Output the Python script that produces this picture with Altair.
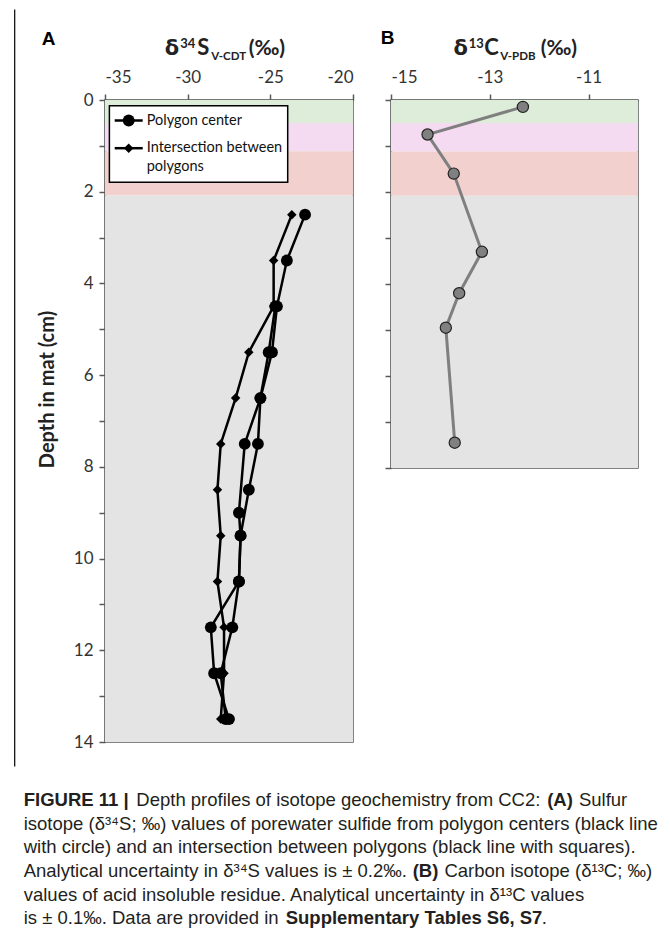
import altair as alt
import pandas as pd

# ---------------- data ----------------
# Panel A: delta34S (permil) vs depth (cm)
int_depth = [2.5, 3.5, 4.5, 5.5, 6.5, 7.5, 8.5, 9.5, 10.5, 11.5, 12.5, 13.5]
int_val = [-23.7, -24.8, -24.8, -26.3, -27.1, -28.0, -28.2, -28.0, -28.2, -27.8, -27.8, -28.0]
c1_depth = [2.5, 3.5, 4.5, 5.5, 6.5, 7.5, 8.5, 9.5, 10.5, 11.5, 12.5, 13.5]
c1_val = [-22.9, -24.0, -24.6, -24.9, -25.6, -25.75, -26.3, -26.8, -26.9, -28.6, -28.4, -27.5]
c2_depth = [4.5, 5.5, 6.5, 7.5, 9.0, 9.5, 10.5, 11.5, 12.5, 13.5]
c2_val = [-24.7, -25.1, -25.6, -26.55, -26.9, -26.8, -26.9, -27.3, -28.0, -27.7]
# Panel B: delta13C (permil) vs depth (cm)
c13_depth = [0.15, 0.75, 1.6, 3.3, 4.2, 4.95, 7.45]
c13_val = [-12.33, -14.26, -13.73, -13.16, -13.62, -13.89, -13.71]
# shaded mat layers (depth limits, cm)
band_names = ["green", "pink", "red", "grey"]
band_top = [0, 0.5, 1.12, 2.08]
band_bottom_A = [0.5, 1.12, 2.08, 14]
band_bottom_B = [0.5, 1.12, 2.08, 8]
band_colors = ["#ddedd9", "#f5dbf2", "#f1d0cd", "#e4e4e4"]
xA_ticks = [-35, -30, -25, -20]
xB_ticks = [-15, -13, -11]

# ---------------- layout ----------------
W_A, H_A = 248, 642
W_B, H_B = 247, 368
OX_A, OY_A = 103.3, 98.5
OX_B, OY_B = OX_A + W_A + 38, 98.5
AX = "#595959"
MINUS = "datum.value < 0 ? '-' + abs(datum.value) : '' + datum.value"

one = pd.DataFrame({"k": [0]})


def txt(t, px, py, size, weight="normal", font="Lato", color="#222222",
        align="left", baseline="alphabetic", angle=None, ox=OX_A, oy=OY_A):
    kw = dict(align=align, baseline=baseline, fontSize=size, fontWeight=weight,
              font=font, color=color)
    if angle is not None:
        kw["angle"] = angle
    return alt.Chart(one).mark_text(**kw).encode(
        x=alt.value(px - ox), y=alt.value(py - oy), text=alt.value(t))


dfA = pd.concat([
    pd.DataFrame({"depth": int_depth, "val": int_val, "series": "int"}),
    pd.DataFrame({"depth": c1_depth, "val": c1_val, "series": "c1"}),
    pd.DataFrame({"depth": c2_depth, "val": c2_val, "series": "c2"}),
])
dfB = pd.DataFrame({"depth": c13_depth, "val": c13_val})
bandA = pd.DataFrame({"band": band_names, "top": band_top, "bottom": band_bottom_A})
bandB = pd.DataFrame({"band": band_names, "top": band_top, "bottom": band_bottom_B})

band_color = alt.Color("band:N", scale=alt.Scale(domain=band_names, range=band_colors), legend=None)

yscaleA = alt.Scale(domain=[0, 14], nice=False, reverse=True)
yaxisA = alt.Axis(values=list(range(0, 15)), title=None, labelPadding=6,
                  labelExpr="datum.value % 2 == 0 ? datum.label : ''")
xA = alt.X("val:Q", scale=alt.Scale(domain=[-35, -20], nice=False),
           axis=alt.Axis(orient="top", values=xA_ticks, title=None, labelPadding=8,
                         labelExpr=MINUS))
yA = alt.Y("depth:Q", scale=yscaleA, axis=yaxisA)

bandsA = alt.Chart(bandA).mark_rect().encode(
    y=alt.Y("top:Q", scale=yscaleA, axis=yaxisA),
    y2="bottom:Q", x=alt.value(0), x2=alt.value(W_A), color=band_color)

linesA = alt.Chart(dfA).mark_line(color="black", strokeWidth=2.5).encode(
    x=xA, y=yA, detail="series:N", order="depth:Q")
circA = alt.Chart(dfA).transform_filter("datum.series != 'int'").mark_point(
    shape="circle", filled=True, size=140, color="black", opacity=1).encode(x=xA, y=yA)
diaA = alt.Chart(dfA).transform_filter("datum.series == 'int'").mark_point(
    shape="diamond", filled=True, size=90, color="black", opacity=1).encode(x=xA, y=yA)

# legend box (manual, to reproduce line-through-symbol keys)
leg_box = alt.Chart(one).mark_rect(fill="white", stroke="black", strokeWidth=1.5).encode(
    x=alt.value(107.7 - OX_A), x2=alt.value(286 - OX_A),
    y=alt.value(104.3 - OY_A), y2=alt.value(180.7 - OY_A))
leg_l1 = alt.Chart(one).mark_rule(color="black", strokeWidth=2.5).encode(
    x=alt.value(113 - OX_A), x2=alt.value(141 - OX_A), y=alt.value(119 - OY_A))
leg_l2 = alt.Chart(one).mark_rule(color="black", strokeWidth=2.5).encode(
    x=alt.value(113 - OX_A), x2=alt.value(141 - OX_A), y=alt.value(146.7 - OY_A))
leg_p1 = alt.Chart(one).mark_point(shape="circle", filled=True, size=140, color="black", opacity=1).encode(
    x=alt.value(127 - OX_A), y=alt.value(119 - OY_A))
leg_p2 = alt.Chart(one).mark_point(shape="diamond", filled=True, size=90, color="black", opacity=1).encode(
    x=alt.value(127 - OX_A), y=alt.value(146.7 - OY_A))
leg_t = [
    txt("Polygon center", 145, 119, 14.5, baseline="middle", color="#111111"),
    txt("Intersection between", 145, 146.7, 14.5, baseline="middle", color="#111111"),
    txt("polygons", 145, 165.5, 14.5, baseline="middle", color="#111111"),
]

# axis titles with super/subscripts
titleA = [
    txt("δ", 163, 53, 21, "bold", font="DejaVu Sans"),
    txt("34", 178.5, 46, 13, "bold"),
    txt("S", 195.5, 53, 22, "bold"),
    txt("V-CDT", 209.5, 58.5, 11.5, "bold"),
    txt("(‰)", 247, 53, 21, "bold"),
]
ylabel = txt("Depth in mat (cm)", 46, 388, 20, "bold", align="center",
             baseline="middle", angle=270)
labelA = txt("A", 47, 37, 19, "bold", font="Liberation Sans", color="black",
             align="center", baseline="middle")

# anchor (fixes the page origin) and figure edge line
anchor = alt.Chart(one).mark_rect(fillOpacity=0, strokeOpacity=0, fill="white").encode(
    x=alt.value(8 - OX_A), x2=alt.value(9 - OX_A), y=alt.value(8 - OY_A), y2=alt.value(9 - OY_A))
frame_l = alt.Chart(one).mark_rule(color="black", strokeWidth=1.2).encode(
    x=alt.value(13 - OX_A), y=alt.value(8 - OY_A), y2=alt.value(765 - OY_A))

# caption (segments flow left to right; bold parts separate)
CF = "Liberation Sans"
CS = 18.5
CC = "#231f20"
cap = [
    txt("FIGURE 11 |", 22, 804, CS, "bold", CF, CC),
    txt("Depth profiles of isotope geochemistry from CC2:", 134.6, 804, CS, "normal", CF, CC),
    txt("(A)", 545.5, 804, CS, "bold", CF, CC),
    txt("Sulfur", 577.2, 804, CS, "normal", CF, CC),
    txt("isotope (δ³⁴S; ‰) values of porewater sulfide from polygon centers (black line",
        22, 828, CS, "normal", CF, CC),
    txt("with circle) and an intersection between polygons (black line with squares).",
        22, 851, CS, "normal", CF, CC),
    txt("Analytical uncertainty in δ³⁴S values is ± 0.2‰.", 22, 875, CS, "normal", CF, CC),
    txt("(B)", 411, 875, CS, "bold", CF, CC),
    txt("Carbon isotope (δ¹³C; ‰)", 442.7, 875, CS, "normal", CF, CC),
    txt("values of acid insoluble residue. Analytical uncertainty in δ¹³C values",
        22, 899, CS, "normal", CF, CC),
    txt("is ± 0.1‰. Data are provided in", 22, 922, CS, "normal", CF, CC),
    txt("Supplementary Tables S6, S7", 284, 922, CS, "bold", CF, CC),
    txt(".", 540, 922, CS, "normal", CF, CC),
]

panelA = alt.layer(
    anchor, bandsA, linesA, circA, diaA,
    leg_box, leg_l1, leg_l2, leg_p1, leg_p2, *leg_t,
    *titleA, ylabel, labelA, frame_l, *cap
).properties(width=W_A, height=H_A)

# ---------------- panel B ----------------
yscaleB = alt.Scale(domain=[0, 8], nice=False, reverse=True)
yaxisB = alt.Axis(values=list(range(0, 9)), labels=False, title=None)
xB = alt.X("val:Q", scale=alt.Scale(domain=[-15, -10], nice=False),
           axis=alt.Axis(orient="top", values=xB_ticks, title=None, labelPadding=8,
                         labelExpr=MINUS))
yB = alt.Y("depth:Q", scale=yscaleB, axis=yaxisB)

bandsB = alt.Chart(bandB).mark_rect().encode(
    y=alt.Y("top:Q", scale=yscaleB, axis=yaxisB), y2="bottom:Q",
    x=alt.value(0), x2=alt.value(W_B), color=band_color)
lineB = alt.Chart(dfB).mark_line(color="#7f7f7f", strokeWidth=3).encode(x=xB, y=yB, order="depth:Q")
ptsB = alt.Chart(dfB).mark_point(shape="circle", filled=True, size=125, fill="#808080",
                                 stroke="#222222", strokeWidth=1.2, opacity=1).encode(x=xB, y=yB)
titleB = [
    txt("δ", 451.7, 53, 21, "bold", font="DejaVu Sans", ox=OX_B, oy=OY_B),
    txt("13", 467, 46, 13, "bold", ox=OX_B, oy=OY_B),
    txt("C", 482.5, 53, 22, "bold", ox=OX_B, oy=OY_B),
    txt("V-PDB", 498.5, 58.5, 11.5, "bold", ox=OX_B, oy=OY_B),
    txt("(‰)", 539, 53, 21, "bold", ox=OX_B, oy=OY_B),
]
labelB = txt("B", 386, 36, 19, "bold", font="Liberation Sans", color="black",
             align="center", baseline="middle", ox=OX_B, oy=OY_B)

panelB = alt.layer(bandsB, lineB, ptsB, *titleB, labelB).properties(width=W_B, height=H_B)

chart = alt.hconcat(panelA, panelB, spacing=38, bounds="flush").properties(
    padding=0
).configure_view(
    stroke=AX, strokeWidth=1.5
).configure_axis(
    domainColor=AX, tickColor=AX, domainWidth=1.5, tickWidth=1.5, tickSize=6,
    labelFont="Lato", labelFontSize=17, labelColor="#333333", grid=False
)

chart.save("out.html", embed_options={"renderer": "svg", "actions": False})
